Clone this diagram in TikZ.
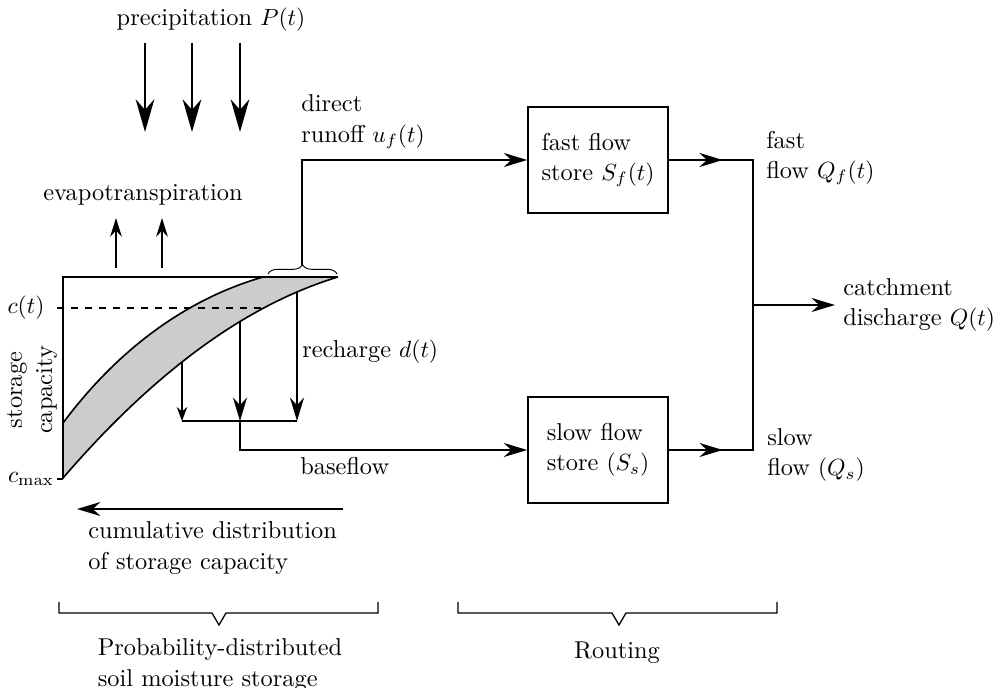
\documentclass[tikz,border=0pt]{standalone}
\usepackage{amsmath}
\usepackage{tikz}
\usetikzlibrary{arrows.meta, positioning, calc, decorations.pathreplacing}

\begin{document}
\begin{tikzpicture}[
        x=0.015cm, y=-0.015cm,
        every node/.style={font=\fontsize{10.4}{13}\selectfont},
        store/.style={rectangle, draw, line width=0.7pt, minimum width=2.1cm, minimum height=1.59cm, align=left},
        txt/.style={align=left, anchor=west},
        line/.style={line width=0.7pt},
        arrow/.style={-{Stealth[length=10pt, width=6pt]}, line width=0.7pt},
        bigarrow/.style={-{Stealth[length=14pt, width=8pt]}, line width=0.8pt},
        evaparrow/.style={-{Stealth[length=8pt, width=5pt]}, line width=0.7pt},
        smallarrow/.style={-{Stealth[length=6pt, width=4.5pt]}, line width=0.7pt},
        bracket/.style={line width=0.55pt}
    ]
    \useasboundingbox (0,0) rectangle (1002,688);

    % Precipitation
    \node (precip) at (211,20) {precipitation $P(t)$};
    \foreach \x [count=\i] in {145,192,240} {
        \coordinate (pa\i) at (\x,43);
        \coordinate (pb\i) at (\x,132);
        \draw[bigarrow] (pa\i) -- (pb\i);
    }

    % Evapotranspiration
    \node (evap) at (143,195) {evapotranspiration};
    \foreach \x [count=\i] in {116,162} {
        \coordinate (ea\i) at (\x,268);
        \coordinate (eb\i) at (\x,218);
        \draw[evaparrow] (ea\i) -- (eb\i);
    }

    % Distribution of storage capacity
    \fill[black!20] (63,423) .. controls (125,340) and (196.3,296.2) .. (263,277)
        -- (338,277) .. controls (246.3,304.6) and (154.7,371.6) .. (63,478) -- cycle;
    \draw[line] (63,423) .. controls (125,340) and (196.3,296.2) .. (263,277);
    \draw[line] (63,478) .. controls (154.7,371.6) and (246.3,304.6) .. (338,277);
    \draw[line] (63,479) -- (63,277) -- (338,277);
    \draw[dashed, line width=0.6pt] (57,308) -- (263.6,308);
    \node (ct) at (26,308) {$c(t)$};
    \node[inner sep=1pt] (cmax) at (31,479) {$c_{\max}$};
    \draw[line] (cmax.east) -- (63,479);
    \node[rotate=90, align=center] (scap) at (32,390) {storage\\capacity};

    % Stores
    \node[store] (fast) at (598,160) {fast flow\\store $S_f(t)$};
    \node[store] (slow) at (598,450) {slow flow\\store $(S_s)$};

    % Direct runoff
    \draw[thin, decorate, decoration={brace, amplitude=4pt}] (268,274) -- (337,274);
    \coordinate (brtip) at (302,265);
    \draw[arrow] (brtip) |- (fast.west);
    \node[txt] (runoff) at (293,122) {direct\\runoff $u_f(t)$};

    % Recharge and baseflow
    \coordinate (r1) at (182,362);
    \coordinate (r2) at (240,322);
    \coordinate (r3) at (297,292);
    \coordinate (s1) at (182,421);
    \coordinate (s2) at (240,421);
    \coordinate (s3) at (297,421);
    \draw[smallarrow] (r1) -- (s1);
    \draw[arrow] (r2) -- (s2);
    \draw[arrow] (r3) -- (s3);
    \draw[line] (s1) -- (s3);
    \draw[arrow] (s2) |- (slow.west);
    \node[txt] (rech) at (294,352) {recharge $d(t)$};
    \node[txt] (base) at (292,466) {baseflow};

    % Routing outputs
    \coordinate (fj) at (753,160);
    \coordinate (sj) at (753,450);
    \coordinate (mj) at (753,305);
    \draw[line] (fast.east) -- (fj) -- (sj) -- (slow.east);
    \draw[arrow] (fast.east) -- ++(54,0);
    \draw[arrow] (slow.east) -- ++(54,0);
    \node[txt] (catch) at (835,305) {catchment\\discharge $Q(t)$};
    \draw[arrow] (mj) -- (catch.west);
    \node[txt] (qf) at (758,158) {fast\\flow $Q_f(t)$};
    \node[txt] (qs) at (759,455) {slow\\flow $(Q_s)$};

    % Cumulative distribution
    \coordinate (ca) at (343,509);
    \coordinate (cb) at (77,509);
    \draw[arrow] (ca) -- (cb);
    \node[txt] (cumul) at (80,548) {cumulative distribution\\of storage capacity};

    % Model components
    \draw[bracket] (59,602) -- (59,613) -- (212,613) -- (219,625) -- (226,613) -- (378,613) -- (378,602);
    \draw[bracket] (458,602) -- (458,613) -- (612,613) -- (619,625) -- (626,613) -- (777,613) -- (777,602);
    \node[align=left] (pdm) at (220,665) {Probability-distributed\\soil moisture storage};
    \node (routing) at (617,653) {Routing};
\end{tikzpicture}
\end{document}
